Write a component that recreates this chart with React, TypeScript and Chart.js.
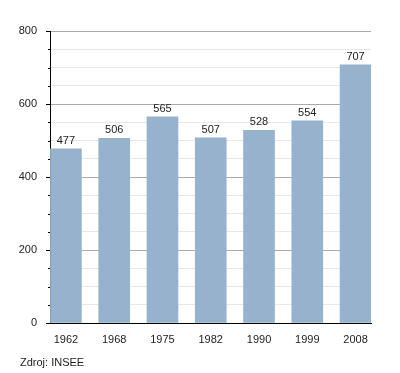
import React, { useEffect, useRef } from "react";
import { Chart, registerables } from "chart.js";

Chart.register(...registerables);

const years = ["1962", "1968", "1975", "1982", "1990", "1999", "2008"];
const population = [477, 506, 565, 507, 528, 554, 707];
const sourceText = "Zdroj: INSEE";

const FONT = "'Liberation Sans', Arial, sans-serif";

const extrasPlugin = {
  id: "extras",
  afterDatasetsDraw(chart: any) {
    const ctx = chart.ctx;
    const meta = chart.getDatasetMeta(0);
    ctx.save();
    ctx.fillStyle = "#222";
    ctx.font = `11px ${FONT}`;
    ctx.textAlign = "center";
    ctx.textBaseline = "alphabetic";
    meta.data.forEach((el: any, i: number) => {
      ctx.fillText(String(population[i]), el.x, el.y - 5);
    });
    ctx.restore();
  },
  afterDraw(chart: any) {
    const ctx = chart.ctx;
    const y = chart.scales.y;
    const left = chart.chartArea.left;
    ctx.save();
    ctx.strokeStyle = "#000";
    ctx.lineWidth = 1;
    y.ticks.forEach((t: any) => {
      const p = Math.round(y.getPixelForValue(t.value)) + 0.5;
      const len = t.value % 200 === 0 ? 4 : 2;
      ctx.beginPath();
      ctx.moveTo(left - len, p);
      ctx.lineTo(left, p);
      ctx.stroke();
    });
    ctx.fillStyle = "#222";
    ctx.font = `11px ${FONT}`;
    ctx.textAlign = "left";
    ctx.textBaseline = "alphabetic";
    ctx.fillText(sourceText, 20, 366);
    ctx.restore();
  },
};

export default function App() {
  const ref = useRef<HTMLCanvasElement>(null);
  useEffect(() => {
    if (!ref.current) return;
    const chart = new Chart(ref.current, {
      type: "bar",
      data: {
        datasets: [
          {
            data: population.map((v, i) => ({ x: i, y: v })),
            backgroundColor: "#97b2cc",
            borderWidth: 0,
            barThickness: 31,
          },
        ],
      },
      options: {
        animation: false,
        responsive: true,
        maintainAspectRatio: false,
        layout: { padding: { left: 0, top: 31, right: 29, bottom: 0 } },
        plugins: { legend: { display: false }, tooltip: { enabled: false } },
        scales: {
          x: {
            type: "linear",
            offset: false,
            min: -0.33,
            max: 6.32,
            afterBuildTicks: (scale: any) => {
              scale.ticks = years.map((_, i) => ({ value: i }));
            },
            afterFit: (scale: any) => {
              scale.height = 50;
            },
            grid: { display: false, offset: false },
            border: { display: true, color: "#000", width: 1 },
            ticks: {
              autoSkip: false,
              maxRotation: 0,
              padding: 2,
              color: "#222",
              font: { family: FONT, size: 11 },
              callback: (v: any) => years[v] ?? "",
            },
          },
          y: {
            min: 0,
            max: 800,
            afterFit: (scale: any) => {
              scale.width = 50;
            },
            grid: {
              drawTicks: false,
              color: (ctx: any) =>
                ctx.tick && ctx.tick.value % 200 === 0 ? "#aaaaaa" : "#e8e8e8",
            },
            border: { display: true, color: "#000", width: 1 },
            ticks: {
              stepSize: 50,
              padding: 13,
              color: "#222",
              font: { family: FONT, size: 11 },
              callback: (v: any) => (v % 200 === 0 ? String(v) : ""),
            },
          },
        },
      },
      plugins: [extrasPlugin],
    });
    return () => chart.destroy();
  }, []);
  return (
    <div style={{ position: "fixed", left: 0, top: 0, width: 400, height: 373 }}>
      <canvas ref={ref} />
    </div>
  );
}
